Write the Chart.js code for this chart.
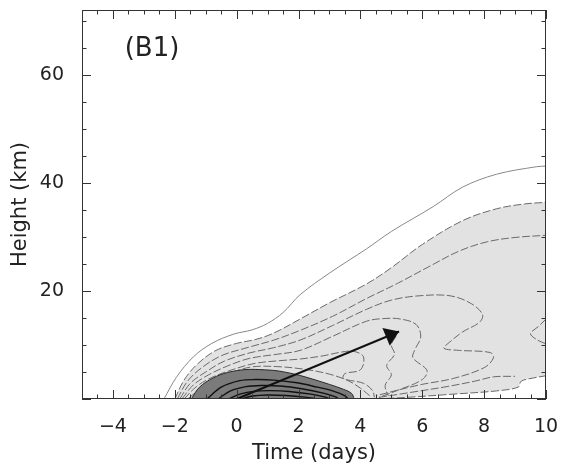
<!DOCTYPE html>
<html>
<head>
<meta charset="utf-8">
<script src="https://cdn.jsdelivr.net/npm/chart.js@4.4.0/dist/chart.umd.min.js"></script>
<style>
  body { margin: 0; background: #fff; }
  canvas { display: block; }
</style>
</head>
<body>
<canvas id="heightTimeChart" width="561" height="467"></canvas>
<script>
// tick labels
const TIME_TICKS = [-4, -2, 0, 2, 4, 6, 8, 10];
const HEIGHT_TICKS = [20, 40, 60];
const PANEL_LABEL = '(B1)';

// contours as [time (days), height (km)]
const OUTER = [[-2.35, 0], [-1.95, 4.0], [-1.4, 7.8], [-0.8, 10.3], [-0.1, 12.0], [0.5, 12.8], [1.0, 14.0], [1.5, 16.0], [2.05, 19.3], [3.0, 23.3], [4.2, 27.8], [5.0, 31.0], [6.35, 35.6], [7.3, 39.2], [8.4, 41.6], [9.7, 43.0], [10, 43.1]];
const SHADE_TOP = [[-2.0, 0], [-1.7, 3.5], [-1.3, 6.3], [-0.7, 8.9], [0, 10.3], [0.6, 11.0], [1.2, 12.2], [2.05, 14.8], [3.0, 17.8], [4.2, 21.3], [5.0, 24.3], [6.0, 28.6], [7.3, 33.0], [8.4, 35.2], [9.3, 36.1], [10, 36.4]];
const SHADE_BOTTOM = [[4.5, 0], [5.5, 0.3], [7.0, 0.9], [8.4, 1.5], [9.1, 2.2], [9.2, 3.3], [9.6, 3.9], [10, 4.3]];
const LEVEL_A = [[-1.92, 0], [-1.6, 3.2], [-1.15, 5.7], [-0.5, 8.0], [0.4, 9.6], [1.2, 10.9], [2.05, 12.7], [3.1, 15.3], [4.2, 18.6], [5.2, 21.4], [6.25, 24.6], [7.2, 27.4], [8.1, 29.1], [9.0, 29.9], [10, 30.3]];
const LEVEL_B = [[-1.84, 0], [-1.5, 2.9], [-1.0, 5.0], [-0.4, 7.0], [0.4, 8.5], [1.2, 9.5], [2.05, 10.9], [3.1, 13.6], [4.2, 16.6], [5.0, 18.3], [5.9, 19.1], [6.9, 19.1], [7.6, 17.6], [7.95, 15.6], [7.85, 14.2], [7.3, 12.4], [6.9, 10.6], [6.7, 9.4], [7.2, 9.0], [8.2, 8.6], [8.3, 7.6], [8.0, 5.8], [7.0, 3.8], [5.9, 2.6], [4.5, 0.6]];
const LEVEL_C = [[-1.77, 0], [-1.4, 2.6], [-0.9, 4.5], [-0.3, 6.1], [0.4, 7.5], [1.2, 8.2], [2.05, 9.0], [3.1, 11.6], [4.2, 14.4], [4.8, 14.9], [5.3, 14.8], [5.8, 13.8], [5.95, 11.5], [5.75, 9.0], [5.7, 7.6], [6.15, 5.3], [6.0, 3.6], [5.2, 1.6], [4.6, 0.3]];
const LEVEL_D = [[-1.7, 0], [-1.3, 2.3], [-0.8, 4.0], [-0.1, 5.5], [0.6, 6.6], [1.4, 7.1], [2.05, 7.4], [2.8, 8.0], [3.4, 8.7], [3.8, 8.8], [4.1, 7.8], [4.0, 5.4], [3.5, 4.7], [3.45, 3.8], [4.1, 2.9], [4.4, 1.5], [4.45, 0.3]];
const LEVEL_E = [[-1.58, 0], [-1.2, 1.8], [-0.7, 3.5], [-0.1, 5.0], [0.5, 5.95], [1.3, 6.0], [2.2, 5.5], [3.0, 4.6], [3.6, 3.4], [4.0, 2.0], [4.3, 0.6]];
const TONGUE = [[4.6, 0.3], [5.6, 1.2], [6.8, 2.3], [7.7, 3.3], [8.3, 4.1], [9.0, 4.2]];
const NOSE = [[10, 14.8], [9.75, 13.4], [9.5, 12.1], [9.7, 11.0], [10, 10.2]];
const WIGGLE = [[5.15, 11.6], [5.0, 10.0], [5.1, 8.3], [4.85, 6.2], [5.0, 4.5], [4.8, 2.5], [4.9, 0.6]];
const CORE = [[-1.47, 0], [-1.2, 2.2], [-0.76, 3.9], [-0.3, 4.9], [0.3, 5.45], [0.9, 5.4], [1.4, 5.15], [2.05, 4.35], [2.5, 3.6], [3.0, 2.7], [3.45, 1.8], [3.72, 1.0], [3.8, 0]];
const CORE_1 = [[-0.96, 0], [-0.5, 2.2], [0.1, 3.4], [0.6, 3.6], [1.2, 3.5], [1.95, 3.0], [2.6, 2.2], [3.1, 1.5], [3.5, 0.6], [3.6, 0]];
const CORE_2 = [[-0.6, 0], [-0.2, 1.5], [0.3, 2.3], [0.8, 2.5], [1.4, 2.4], [2.1, 1.9], [2.8, 1.1], [3.2, 0.4], [3.3, 0]];
const CORE_3 = [[-0.25, 0], [0.1, 0.9], [0.6, 1.45], [1.1, 1.55], [1.7, 1.4], [2.4, 0.9], [2.9, 0.3], [3.0, 0]];
const CORE_4 = [[0.15, 0], [0.5, 0.55], [1.0, 0.75], [1.6, 0.65], [2.2, 0.35], [2.6, 0]];
const ARROW = [[0, 0], [5.25, 12.5]];

const pts = arr => arr.map(p => ({ x: p[0], y: p[1] }));
const FONT = 'DejaVu Sans';
const DASH = [8, 2.5];

function contour(arr, extra) {
    return Object.assign({
        data: pts(arr),
        borderColor: '#6a6a6a',
        borderWidth: 1,
        borderDash: DASH,
        fill: false
    }, extra || {});
}

// first dataset is drawn on top
const datasets = [
    { data: pts(ARROW), borderColor: '#111', borderWidth: 2, tension: 0, fill: false },
    contour(CORE_1, { borderColor: '#111', borderWidth: 1.4, borderDash: [] }),
    contour(CORE_2, { borderColor: '#111', borderWidth: 1.4, borderDash: [] }),
    contour(CORE_3, { borderColor: '#111', borderWidth: 1.4, borderDash: [] }),
    contour(CORE_4, { borderColor: '#111', borderWidth: 1.4, borderDash: [] }),
    contour(CORE, { borderColor: '#2a2a2a', borderDash: [], fill: 'origin', backgroundColor: '#7b7b7b' }),
    contour(LEVEL_E),
    contour(LEVEL_D),
    contour(LEVEL_C),
    contour(LEVEL_B),
    contour(LEVEL_A),
    contour(WIGGLE),
    contour(NOSE),
    contour(TONGUE),
    contour(SHADE_BOTTOM, { fill: 'origin', backgroundColor: '#ffffff' }),
    contour(SHADE_TOP, { fill: 'origin', backgroundColor: '#e2e2e2' }),
    contour(OUTER, { borderColor: '#888', borderDash: [] })
];

const framePlugin = {
    id: 'frame',
    afterDatasetsDraw(chart) {
        const { ctx, chartArea: a, scales: { x, y } } = chart;
        ctx.save();

        // arrow head at the end of the arrow dataset
        const m = chart.getDatasetMeta(0).data;
        const p0 = m[0], p1 = m[m.length - 1];
        const ang = Math.atan2(p1.y - p0.y, p1.x - p0.x);
        const len = 17, half = 0.6;
        ctx.fillStyle = '#111';
        ctx.beginPath();
        ctx.moveTo(p1.x, p1.y);
        ctx.lineTo(p1.x - len * Math.cos(ang - half), p1.y - len * Math.sin(ang - half));
        ctx.lineTo(p1.x - len * Math.cos(ang + half), p1.y - len * Math.sin(ang + half));
        ctx.closePath();
        ctx.fill();

        // box and inward ticks
        ctx.strokeStyle = '#333';
        ctx.lineWidth = 1;
        ctx.strokeRect(a.left + 0.5, a.top + 0.5, a.width - 1, a.height - 1);
        ctx.beginPath();
        for (let t = x.min; t <= x.max; t += 0.5) {
            const px = Math.round(x.getPixelForValue(t)) + 0.5;
            const l = t % 2 === 0 ? 9 : 4.5;
            ctx.moveTo(px, a.bottom); ctx.lineTo(px, a.bottom - l);
            ctx.moveTo(px, a.top); ctx.lineTo(px, a.top + l);
        }
        for (let h = y.min; h <= y.max; h += 5) {
            const py = Math.round(y.getPixelForValue(h)) + 0.5;
            const l = h % 20 === 0 ? 9 : 4.5;
            ctx.moveTo(a.left, py); ctx.lineTo(a.left + l, py);
            ctx.moveTo(a.right, py); ctx.lineTo(a.right - l, py);
        }
        ctx.stroke();

        ctx.fillStyle = '#222';
        ctx.font = '26px "' + FONT + '"';
        ctx.textAlign = 'center';
        ctx.textBaseline = 'alphabetic';
        ctx.fillText(PANEL_LABEL, a.left + 70, a.top + 46);
        ctx.restore();
    }
};

const minus = v => (v < 0 ? '\u2212' + Math.abs(v) : String(v));

new Chart(document.getElementById('heightTimeChart'), {
    type: 'line',
    data: { datasets: datasets },
    options: {
        responsive: false,
        animation: false,
        devicePixelRatio: 1,
        layout: { padding: { top: 10, right: 15, left: 0, bottom: 0 } },
        elements: { point: { radius: 0 }, line: { tension: 0.35 } },
        plugins: {
            legend: { display: false },
            tooltip: { enabled: false }
        },
        scales: {
            x: {
                type: 'linear',
                min: -5,
                max: 10,
                afterBuildTicks: s => { s.ticks = TIME_TICKS.map(v => ({ value: v })); },
                afterFit: s => { s.height = 68; s.paddingLeft = 0; s.paddingRight = 0; },
                grid: { display: false },
                border: { display: false },
                ticks: { padding: 9, color: '#222', font: { family: FONT, size: 19 }, callback: minus, maxRotation: 0 },
                title: { display: true, text: 'Time (days)', color: '#222', font: { family: FONT, size: 21 }, padding: { top: 0, bottom: 1 } }
            },
            y: {
                type: 'linear',
                min: 0,
                max: 72,
                afterBuildTicks: s => { s.ticks = HEIGHT_TICKS.map(v => ({ value: v })); },
                afterFit: s => { s.width = 82; s.paddingTop = 0; s.paddingBottom = 0; },
                grid: { display: false },
                border: { display: false },
                ticks: { padding: 10, color: '#222', font: { family: FONT, size: 19 } },
                title: { display: true, text: 'Height (km)', color: '#222', font: { family: FONT, size: 21 }, padding: { top: 8, bottom: 0 } }
            }
        }
    },
    plugins: [framePlugin]
});
</script>
</body>
</html>
